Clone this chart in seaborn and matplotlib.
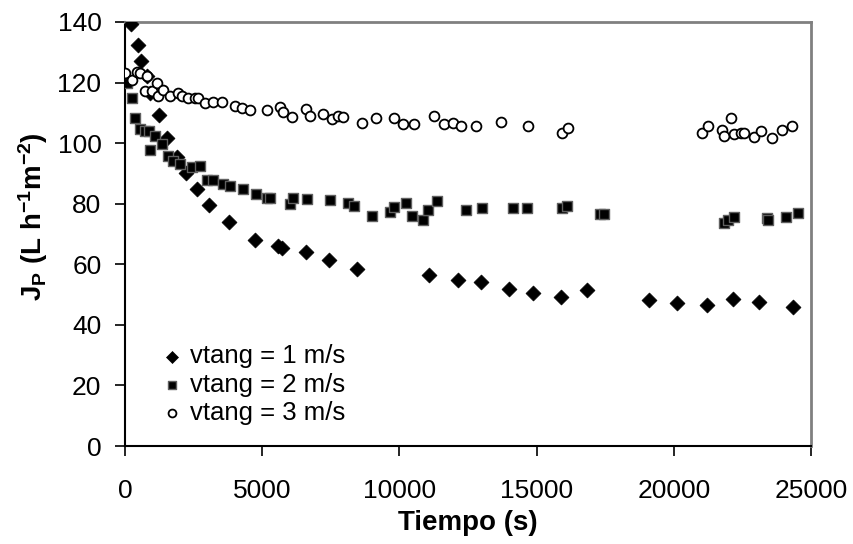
import numpy as np
import pandas as pd
import matplotlib
matplotlib.use("Agg")
import matplotlib.pyplot as plt
import seaborn as sns

# vtang = 1 m/s (diamonds)
t1 = [230, 462, 583, 790, 911, 1251, 1519, 1895, 2211, 2612, 3073, 3790, 4726,
      5588, 5710, 6585, 7445, 8467, 11090, 12120, 12985, 14006, 14880, 15890,
      16825, 19108, 20128, 21220, 22170, 23117, 24355]
j1 = [139.3, 132.4, 127, 122, 116.7, 109.2, 101.7, 95.3, 90.1, 84.9, 79.7, 73.8,
      67.9, 66, 65.5, 64, 61.5, 58.5, 56.6, 54.7, 54, 51.9, 50.6, 49.2, 51.4,
      48.1, 47.3, 46.7, 48.6, 47.4, 45.9]

# vtang = 2 m/s (squares)
t2 = [60, 245, 364, 547, 729, 886, 911, 1093, 1337, 1580, 1760, 2004, 2430, 2733,
      2977, 3195, 3584, 3826, 4312, 4774, 5163, 5290, 6013, 6110, 6620, 7470,
      8140, 8345, 9013, 9657, 9815, 10240, 10447, 10848, 11054, 11358, 12427,
      13022, 14152, 14640, 15914, 16097, 17310, 17456, 21829, 21986, 22194,
      23407, 23440, 24089, 24537]
j2 = [120, 114.8, 108.2, 104.6, 104, 104, 97.7, 102.4, 99.7, 95.8, 94.2, 93.1,
      92, 92.6, 87.8, 87.8, 86.5, 86, 84.9, 83.2, 81.9, 81.9, 79.9, 81.9, 81.4,
      81.2, 80.1, 79.4, 76.1, 77.4, 78.8, 80.1, 76.1, 74.7, 78, 80.8, 78, 78.6,
      78.6, 78.6, 78.6, 79.4, 76.6, 76.6, 73.6, 74.7, 75.5, 75.3, 74.7, 75.5, 76.8]

# vtang = 3 m/s (circles)
t3 = [0, 245, 425, 547, 729, 790, 972, 1155, 1215, 1397, 1640, 1943, 2065, 2308,
      2551, 2672, 2915, 3195, 3523, 4009, 4252, 4555, 5163, 5649, 5745, 6074,
      6596, 6742, 7227, 7532, 7775, 7957, 8625, 9147, 9803, 10143, 10532, 11261,
      11625, 11965, 12234, 12792, 13691, 14698, 15914, 16155, 21016, 21258,
      21743, 21829, 22073, 22194, 22437, 22558, 22923, 23166, 23567, 23931, 24295]
j3 = [123, 121, 123.6, 123.3, 117.3, 122, 117.3, 120, 115.6, 117.5, 115.6, 116.4,
      115.6, 114.8, 114.8, 114.8, 113.4, 113.7, 113.7, 112.3, 111.6, 110.9,
      110.9, 111.8, 110.3, 108.7, 111.2, 109, 109.6, 108, 109, 108.5, 106.8,
      108.2, 108.2, 106.2, 106.2, 109, 106.2, 106.5, 105.5, 105.7, 107, 105.7,
      103.5, 104.9, 103.2, 105.7, 104.3, 102.4, 108.2, 103, 103.5, 103.5, 102.1,
      103.9, 101.7, 104.3, 105.7]

labels = ["vtang = 1 m/s", "vtang = 2 m/s", "vtang = 3 m/s"]
x_ticks = [0, 5000, 10000, 15000, 20000, 25000]
y_ticks = [0, 20, 40, 60, 80, 100, 120, 140]

df = pd.concat([
    pd.DataFrame({"t": t1, "j": j1, "serie": labels[0]}),
    pd.DataFrame({"t": t2, "j": j2, "serie": labels[1]}),
    pd.DataFrame({"t": t3, "j": j3, "serie": labels[2]}),
], ignore_index=True)

sns.set_theme(style="white")
plt.rcParams['font.family'] = ['Liberation Sans', 'DejaVu Sans']
plt.rcParams['mathtext.fontset'] = 'custom'
plt.rcParams['mathtext.rm'] = 'Liberation Sans'
plt.rcParams['mathtext.bf'] = 'Liberation Sans:bold'
plt.rcParams['mathtext.it'] = 'Liberation Sans:italic'
plt.rcParams['text.color'] = 'black'
plt.rcParams['axes.labelcolor'] = 'black'
plt.rcParams['xtick.color'] = 'black'
plt.rcParams['ytick.color'] = 'black'

fig = plt.figure(figsize=(8.54, 5.44), dpi=100)
ax = fig.add_axes([0.1464, 0.1801, 0.8032, 0.7795])

styles = {
    labels[0]: dict(marker="D", s=58, facecolor="black", edgecolor="black", linewidth=0.5),
    labels[1]: dict(marker="s", s=52, facecolor="black", edgecolor="#606060", linewidth=1.0),
    labels[2]: dict(marker="o", s=50, facecolor="white", edgecolor="black", linewidth=1.3),
}
for lab in labels:
    sub = df[df["serie"] == lab]
    sns.scatterplot(data=sub, x="t", y="j", ax=ax, label=lab, zorder=3, **styles[lab])

ax.set_xlim(0, 25000)
ax.set_ylim(0, 140)
ax.set_xticks(x_ticks)
ax.set_yticks(y_ticks)
ax.tick_params(axis="both", direction="out", length=7, width=1.2, colors="black",
               labelsize=19, left=True, bottom=True)
ax.tick_params(axis="x", pad=17)
ax.tick_params(axis="y", pad=10)

for side in ["left", "bottom"]:
    ax.spines[side].set_color("black")
    ax.spines[side].set_linewidth(1.5)
for side in ["top", "right"]:
    ax.spines[side].set_color("#808080")
    ax.spines[side].set_linewidth(2)

ax.set_xlabel("Tiempo (s)", fontsize=20, fontweight="bold", labelpad=5)
ax.set_ylabel(r"$\mathbf{J_P\ (L\ h^{-1}m^{-2})}$", fontsize=20)
ax.yaxis.set_label_coords(-0.11, 0.54)

leg = ax.legend(loc="upper left", bbox_to_anchor=(0.054, 0.24), frameon=False,
                fontsize=18.5, markerscale=0.8, handletextpad=0.3, labelspacing=0.17,
                handlelength=0.8, borderaxespad=0, borderpad=0)

fig.savefig("out.png", dpi=100)
